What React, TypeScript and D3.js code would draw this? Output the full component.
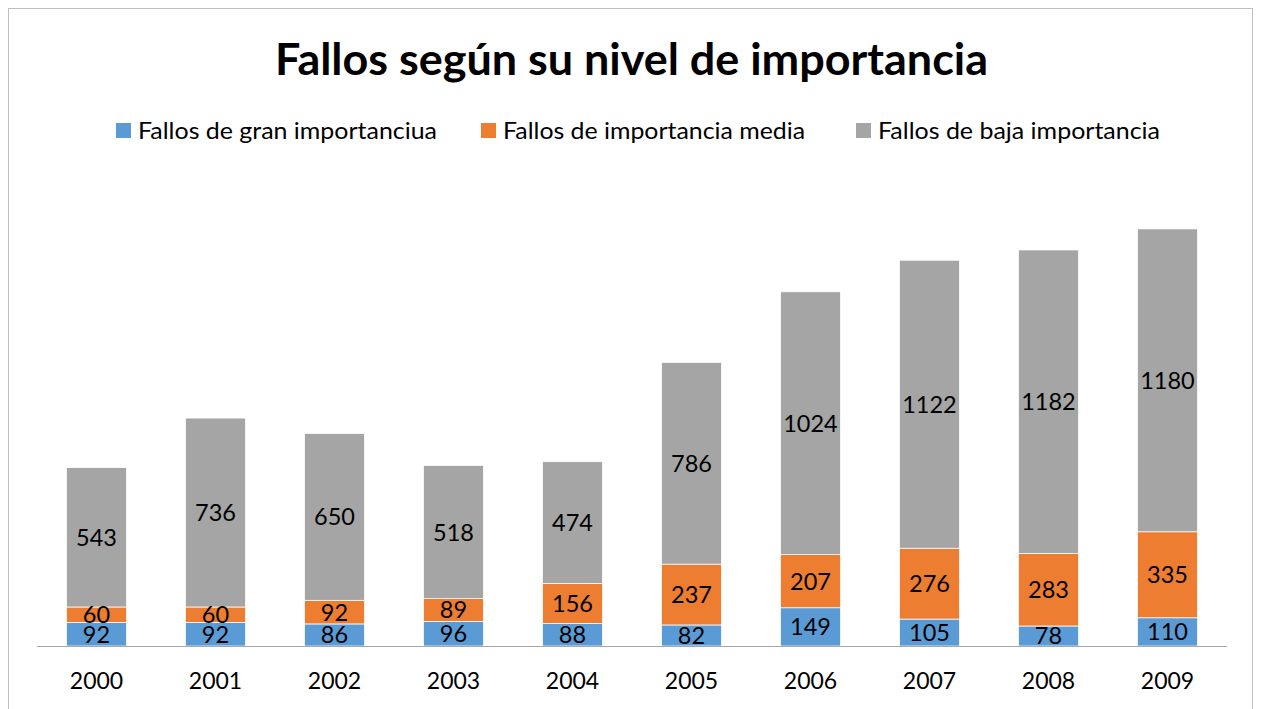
import React from "react";
import * as d3 from "d3";

const years = ["2000", "2001", "2002", "2003", "2004", "2005", "2006", "2007", "2008", "2009"];
const gran = [92, 92, 86, 96, 88, 82, 149, 105, 78, 110];
const media = [60, 60, 92, 89, 156, 237, 207, 276, 283, 335];
const baja = [543, 736, 650, 518, 474, 786, 1024, 1122, 1182, 1180];
const seriesNames = ["Fallos de gran importanciua", "Fallos de importancia media", "Fallos de baja importancia"];
const colors = ["#5B9BD5", "#ED7D31", "#A5A5A5"];
const title = "Fallos según su nivel de importancia";

const W = 1261, H = 709;
const FONT = "Lato, 'Open Sans', sans-serif";

export default function App() {
  const x = d3.scaleBand().domain(years).range([37, 1227]).paddingInner(0.496).paddingOuter(0.248);
  const y = d3.scaleLinear().domain([0, 1800]).range([646, 184]);
  const rows = years.map((yr, i) => ({ year: yr, a: gran[i], b: media[i], c: baja[i] }));
  const stack = d3.stack<any>().keys(["a", "b", "c"])(rows);
  const legendX = [116, 481, 856];
  const legendLen = [299, 302, 282];

  return (
    <svg width={W} height={H} style={{ position: "absolute", left: 0, top: 0 }}>
      <rect x={0} y={0} width={W} height={H} fill="#fff" />
      <rect x={8.5} y={8.5} width={1244} height={720} fill="#fff" stroke="#BFBFBF" strokeWidth={1} />
      <text x={631.5} y={75} textAnchor="middle" fontFamily={FONT} fontWeight="bold" fontSize={43} textLength={713} lengthAdjust="spacingAndGlyphs" fill="#000">{title}</text>
      {seriesNames.map((n, i) => (
        <g key={n}>
          <rect x={legendX[i]} y={123} width={15} height={15} fill={colors[i]} />
          <text x={legendX[i] + 22} y={139} fontFamily={FONT} fontSize={24} textLength={legendLen[i]} lengthAdjust="spacingAndGlyphs" fill="#000">{n}</text>
        </g>
      ))}
      {stack.map((layer, si) => (
        <g key={si}>
          {layer.map((d: any, i: number) => (
            <rect key={i} x={x(years[i])} y={y(d[1])} width={x.bandwidth()} height={y(d[0]) - y(d[1])} fill={colors[si]} stroke="#fff" strokeWidth={0.75} />
          ))}
        </g>
      ))}
      <line x1={37} x2={1227} y1={646.5} y2={646.5} stroke="#A6A6A6" strokeWidth={1.2} />
      {stack.map((layer, si) => (
        <g key={"l" + si}>
          {layer.map((d: any, i: number) => (
            <text key={i} x={x(years[i])! + x.bandwidth() / 2} y={(y(d[0]) + y(d[1])) / 2} dy="0.36em" textAnchor="middle" fontFamily={FONT} fontSize={23.5} fill="#000">{d[1] - d[0]}</text>
          ))}
        </g>
      ))}
      {years.map((yr) => (
        <text key={yr} x={x(yr)! + x.bandwidth() / 2} y={689} textAnchor="middle" fontFamily={FONT} fontSize={23} fill="#000">{yr}</text>
      ))}
    </svg>
  );
}
